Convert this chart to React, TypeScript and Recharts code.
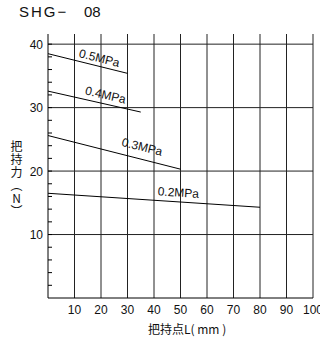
import React from "react";
import { LineChart, Line, XAxis, YAxis, CartesianGrid, ReferenceDot } from "recharts";

// grip force vs. gripping point, one line per supply pressure
const pressures = ["0.5MPa", "0.4MPa", "0.3MPa", "0.2MPa"];
const lineEndX = [30, 35, 50, 80];
const forceAtZero = [38.5, 32.6, 25.6, 16.5];
const forceAtEnd = [35.4, 29.3, 20.3, 14.3];

// where the pressure labels sit (data units) and their tilt
const labelX = [19.4, 21.7, 35.5, 49.2];
const labelY = [37.8, 32.0, 23.8, 16.6];
const labelAngle = [14, 13, 14, 4];

const xTicks = [10, 20, 30, 40, 50, 60, 70, 80, 90, 100];
const yMajor = [10, 20, 30, 40];
const yTicks = [2, 4, 6, 8, 10, 12, 14, 16, 18, 20, 22, 24, 26, 28, 30, 32, 34, 36, 38, 40];

const FONT = '"Liberation Sans", Arial, sans-serif';
const CJK = '"Noto Sans CJK SC", "Liberation Sans", sans-serif';
const TICK_MARGIN = 5;

const series = pressures.map((p, i) => ({
  name: p,
  data: [
    { x: 0, y: forceAtZero[i] },
    { x: lineEndX[i], y: forceAtEnd[i] },
  ],
}));

function YTick(props: any) {
  const { x, y, payload } = props;
  const axisX = x + TICK_MARGIN;
  const v = payload.value;
  return (
    <g>
      <line x1={axisX} x2={axisX + 4} y1={y} y2={y} stroke="#000" strokeWidth={1} />
      {v % 10 === 0 && (
        <text x={x} y={y} dy={4.5} textAnchor="end" fontSize={12} fontFamily={FONT} fill="#111">
          {v}
        </text>
      )}
    </g>
  );
}

export default function App() {
  return (
    <div style={{ position: "fixed", left: 0, top: 0, width: 320, height: 342, background: "#fff" }}>
      <div style={{ position: "absolute", left: 19, top: 3, fontFamily: FONT, fontSize: 15, letterSpacing: 2, color: "#111" }}>
        SHG−
      </div>
      <div style={{ position: "absolute", left: 84, top: 3, fontFamily: FONT, fontSize: 15, color: "#111" }}>
        08
      </div>
      <div
        style={{
          position: "absolute",
          left: 8,
          top: 140,
          writingMode: "vertical-rl",
          textOrientation: "upright",
          whiteSpace: "nowrap",
          letterSpacing: 1,
          fontFamily: CJK,
          fontSize: 12,
          lineHeight: "16px",
          color: "#111",
        }}
      >
        把持力（N）
      </div>
      <div style={{ position: "absolute", left: 148, top: 320, whiteSpace: "nowrap", fontFamily: CJK, fontSize: 12, color: "#111" }}>
        把持点L( mm )
      </div>
      <LineChart width={320} height={342} margin={{ top: 34, right: 7, bottom: 14, left: 18 }}>
        <CartesianGrid
          stroke="#222"
          strokeWidth={1}
          horizontalValues={yMajor}
          verticalValues={xTicks}
        />
        <XAxis
          type="number"
          dataKey="x"
          domain={[0, 100]}
          ticks={xTicks}
          interval={0}
          allowDataOverflow
          height={30}
          tickLine={false}
          tickSize={0}
          tickMargin={7}
          axisLine={{ stroke: "#000" }}
          tick={{ fontSize: 12, fontFamily: FONT, fill: "#111" }}
        />
        <YAxis
          type="number"
          dataKey="y"
          domain={[0, 41.6]}
          ticks={yTicks}
          interval={0}
          allowDataOverflow
          width={30}
          tickLine={false}
          tickSize={0}
          tickMargin={TICK_MARGIN}
          axisLine={{ stroke: "#000" }}
          tick={<YTick />}
        />
        {series.map((s) => (
          <Line
            key={s.name}
            data={s.data}
            dataKey="y"
            stroke="#000"
            strokeWidth={1}
            dot={false}
            isAnimationActive={false}
          />
        ))}
        {pressures.map((p, i) => (
          <ReferenceDot
            key={p}
            x={labelX[i]}
            y={labelY[i]}
            r={0}
            ifOverflow="visible"
            shape={(props: any) => (
              <text
                x={props.cx}
                y={props.cy}
                dy={4}
                textAnchor="middle"
                transform={`rotate(${labelAngle[i]} ${props.cx} ${props.cy})`}
                fontSize={12}
                fontFamily={FONT}
                fill="#111"
              >
                {p}
              </text>
            )}
          />
        ))}
      </LineChart>
    </div>
  );
}
